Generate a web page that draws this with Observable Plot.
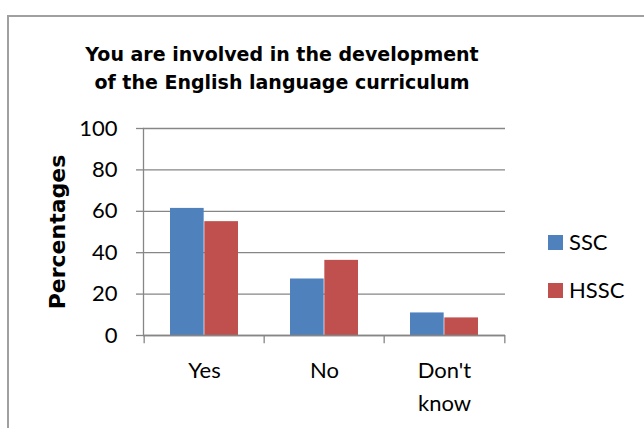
<!DOCTYPE html>
<html>
<head>
<meta charset="utf-8">
<script src="https://cdn.jsdelivr.net/npm/d3@7"></script>
<script src="https://cdn.jsdelivr.net/npm/@observablehq/plot@0.6"></script>
<style>
  html, body { margin: 0; padding: 0; background: #fff; }
  #wrap { position: relative; width: 644px; height: 428px; overflow: hidden; }
  #border { position: absolute; left: 7px; top: 15px; width: 700px; height: 500px;
            border-top: 2px solid #a0a0a0; border-left: 2px solid #a0a0a0; box-sizing: border-box; }
  #title { position: absolute; left: 82px; width: 400px; top: 39.5px; text-align: center;
           font-family: "DejaVu Sans", sans-serif; font-weight: bold; font-size: 19px; line-height: 28px; color: #000; }
  #chart { position: absolute; left: 0; top: 0; }
  .leg { position: absolute; left: 548px; font-family: Lato, sans-serif; font-size: 22px; color: #000; line-height: 1; white-space: nowrap; }
  .leg i { display: inline-block; width: 15px; height: 15px; margin-right: 6px; vertical-align: 0; }
</style>
</head>
<body>
<div id="wrap">
  <div id="border"></div>
  <div id="title">You are involved in the development<br>of the English language curriculum</div>
  <div id="chart"></div>
  <div id="legend"></div>
</div>
<script>
const categories = ["Yes", "No", "Don't know"];
const series = ["SSC", "HSSC"];
const ssc = [61.4, 27.3, 10.9];
const hssc = [55.0, 36.3, 8.5];
const yTicks = [0, 20, 40, 60, 80, 100];
const colors = ["#4F81BD", "#C0504D"];
const yLabel = "Percentages";

const W = 644, H = 428;
const mL = 143, mR = 139, mT = 128, mB = 93;
const band = (W - mL - mR) / categories.length;
const gap = 26, bw = (band - 2 * gap) / 2;
const grey = "#868686";
const fs = 22, lh = 1.47;

const chart = Plot.plot({
  width: W, height: H,
  marginLeft: mL, marginRight: mR, marginTop: mT, marginBottom: mB,
  style: { fontFamily: "Lato, sans-serif", background: "transparent" },
  x: { domain: categories, padding: 0, label: null },
  y: { domain: [0, 100], label: null },
  marks: [
    Plot.gridY(yTicks, { stroke: grey, strokeOpacity: 1, strokeWidth: 1.3 }),
    Plot.barY(categories, { x: categories, y: ssc, fill: colors[0], insetLeft: gap, insetRight: gap + bw }),
    Plot.barY(categories, { x: categories, y: hssc, fill: colors[1], insetLeft: gap + bw, insetRight: gap }),
    Plot.ruleY([0], { stroke: grey, strokeWidth: 1.3 }),
    Plot.frame({ anchor: "left", stroke: grey, strokeWidth: 1.3 }),
    Plot.ruleX(categories, { x: categories, y1: 0, y2: -4, dx: -band / 2, stroke: grey, strokeWidth: 1.3 }),
    Plot.ruleX(categories.slice(-1), { x: d => d, y1: 0, y2: -4, dx: band / 2, stroke: grey, strokeWidth: 1.3 }),
    Plot.axisY({ ticks: yTicks, tickSize: 7, text: null, stroke: grey, strokeWidth: 1.3 }),
    Plot.axisY({ ticks: yTicks, tickSize: 0, tickPadding: 26, fontSize: fs, fill: "#000" }),
    Plot.axisX({ tickSize: 0, tickPadding: 43 - 0.71 * lh * fs, fontSize: fs, fill: "#000", lineHeight: lh,
                 tickFormat: d => d.replace(" ", "\n") }),
    Plot.text([yLabel], { text: d => d, frameAnchor: "left", textAnchor: "middle", rotate: -90, dx: -79, lineAnchor: "bottom",
                 fontFamily: "DejaVu Sans, sans-serif", fontWeight: "bold", fontSize: 22, fill: "#000" })
  ]
});
document.getElementById("chart").appendChild(chart);

const legend = document.getElementById("legend");
series.forEach((s, i) => {
  const d = document.createElement("div");
  d.className = "leg";
  d.style.top = (230.5 + i * 48) + "px";
  d.innerHTML = `<i style="background:${colors[i]}"></i>${s}`;
  legend.appendChild(d);
});
</script>
</body>
</html>
